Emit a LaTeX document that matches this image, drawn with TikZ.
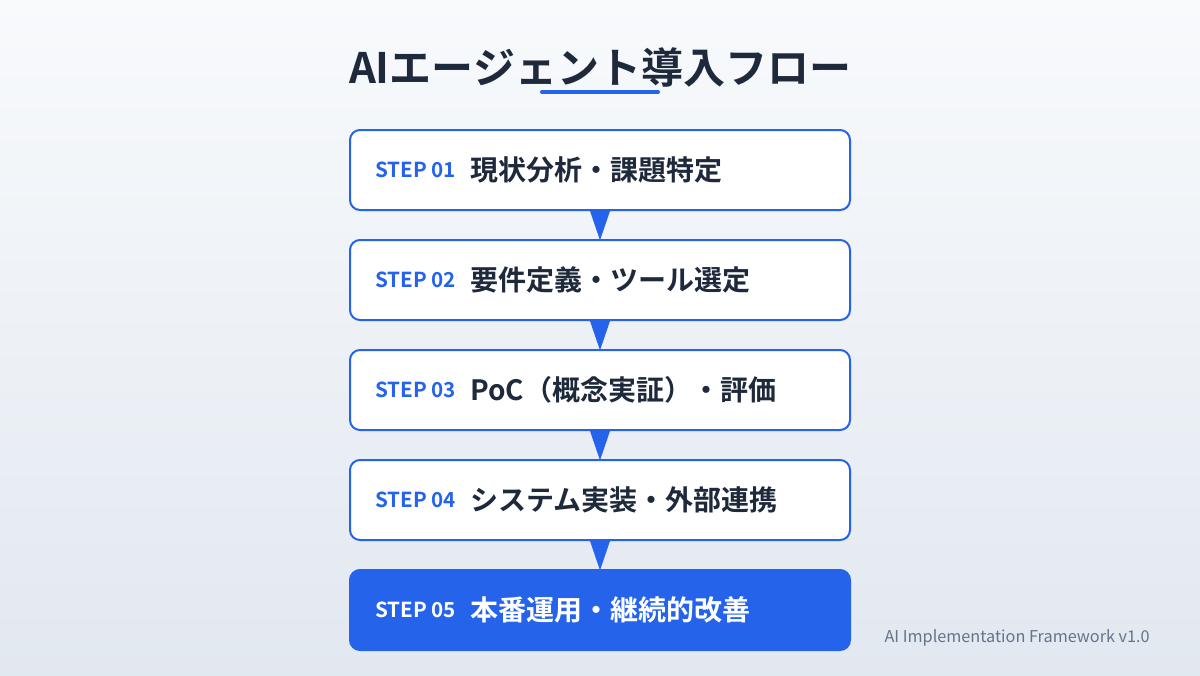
\documentclass[tikz,border=0pt]{standalone}
\usepackage{fontspec}
\setmainfont{Noto Sans CJK JP}
\newfontfamily\jpbold{Noto Sans CJK JP}[BoldFont={* Bold}]
\usetikzlibrary{positioning,shapes.geometric}
\definecolor{stepblue}{HTML}{2563EB}
\definecolor{inkdark}{HTML}{1E293B}
\definecolor{footgray}{HTML}{64748B}
\definecolor{bgtop}{HTML}{F8FAFC}
\definecolor{bgbot}{HTML}{E2E8F0}

\tikzset{
  stepbox/.style={draw=stepblue,line width=1.5pt,fill=white,rounded corners=7.5pt,
    minimum width=375pt,minimum height=60pt},
  lastbox/.style={stepbox,fill=stepblue},
  steplabel/.style={anchor=west,inner sep=0pt,text=stepblue,font=\jpbold\bfseries\fontsize{15.5}{18}\selectfont},
  steptext/.style={anchor=west,inner sep=0pt,text=inkdark,font=\jpbold\bfseries\fontsize{21}{25}\selectfont},
  arrowtip/.style={fill=stepblue,draw=none}
}

\begin{document}
\begin{tikzpicture}[x=0.75pt,y=-0.75pt]
  \shade[top color=bgtop,bottom color=bgbot] (0,0) rectangle (1200,675);
  \useasboundingbox (0,0) rectangle (1200,675);

  \node[font=\jpbold\bfseries\fontsize{31.5}{37}\selectfont,text=inkdark] (title) at (600,67) {AIエージェント導入フロー};
  \draw[stepblue,line width=3pt,line cap=round] (542,92) -- (658,92);

  \foreach \i/\y/\txt in {1/170/現状分析・課題特定,2/280/要件定義・ツール選定,3/390/PoC（概念実証）・評価,4/500/システム実装・外部連携}{
    \node[stepbox] (box\i) at (600,\y) {};
    \node[steplabel] (lab\i) at (375,\y) {STEP 0\i};
    \node[steptext] (txt\i) at (470,\y) {\txt};
  }
  \node[lastbox] (box5) at (600,610) {};
  \node[steplabel,text=white] (lab5) at (375,610) {STEP 05};
  \node[steptext,text=white] (txt5) at (470,610) {本番運用・継続的改善};

  \foreach \a/\b in {1/2,2/3,3/4,4/5}{
    \fill[arrowtip] ([xshift=-7.5pt]box\a.south) -- ([xshift=7.5pt]box\a.south) -- ([yshift=-1pt]box\b.north) -- cycle;
  }

  \node[anchor=east,inner sep=0pt,text=footgray,font=\fontsize{12.2}{14}\selectfont] (foot) at (1150,638) {AI Implementation Framework v1.0};
\end{tikzpicture}
\end{document}
